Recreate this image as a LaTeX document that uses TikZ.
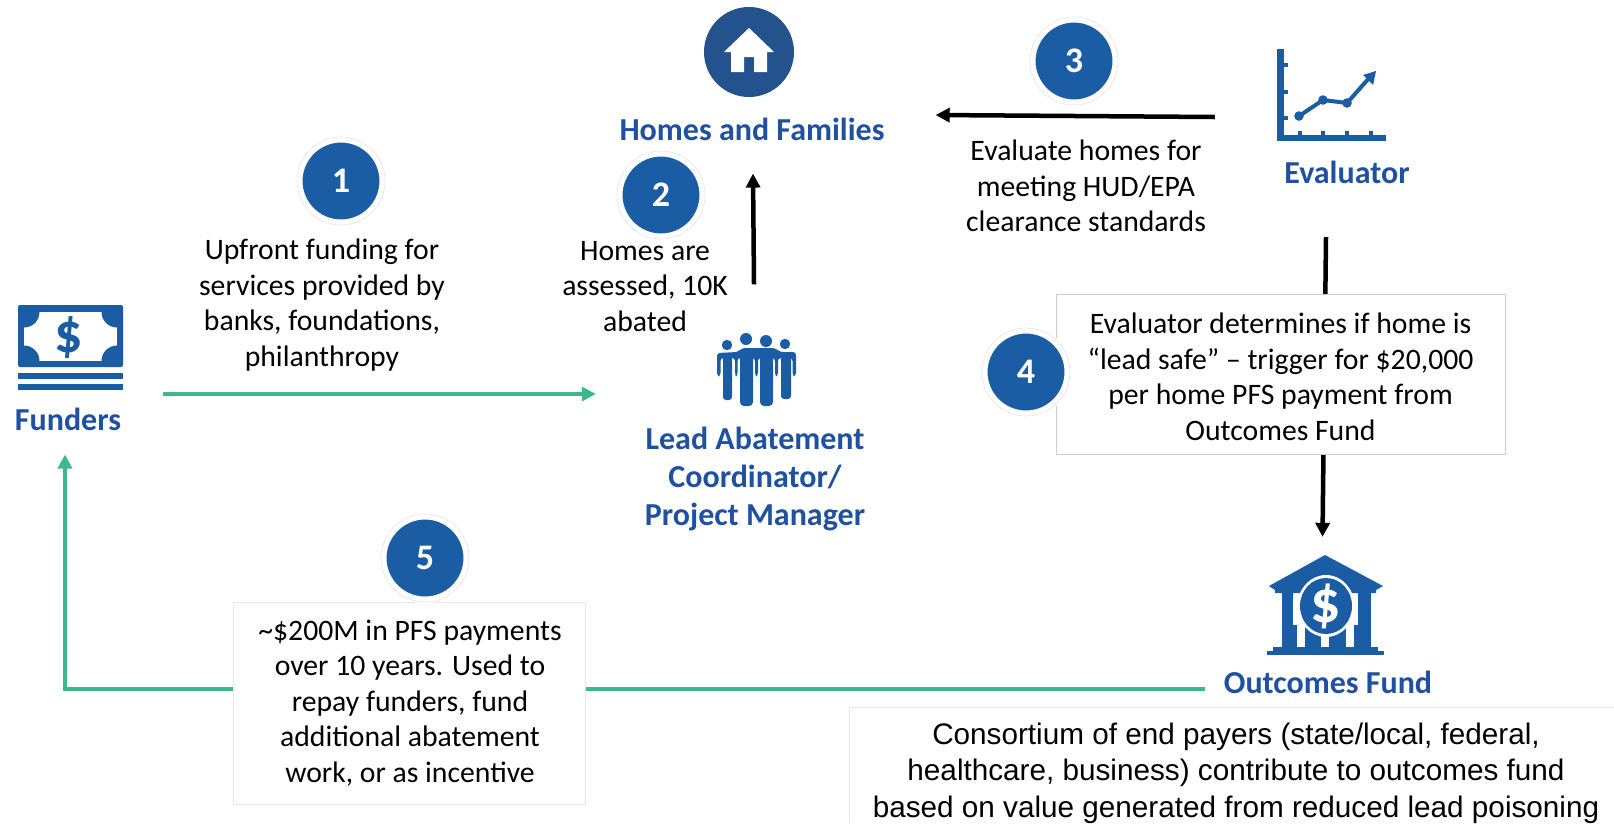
\documentclass[tikz,border=0pt]{standalone}
\usepackage{fontspec}
\setmainfont{Carlito}
\newfontfamily\arialfont{Liberation Sans}
\usetikzlibrary{arrows.meta}
\definecolor{iconblue}{HTML}{1A5DA4}
\definecolor{homeblue}{HTML}{24528C}
\definecolor{labelblue}{HTML}{1F51A0}
\definecolor{flowgreen}{HTML}{3CB88C}
\definecolor{boxgrey}{HTML}{CECECE}
\definecolor{paleboxgrey}{HTML}{E6E6E6}
\tikzset{
  x=1pt,y=-1pt,
  bodytext/.style={align=center,inner sep=0pt,font=\fontsize{29.7}{35.5}\selectfont,text=black},
  whitebox/.style={draw=boxgrey,line width=1pt,fill=white,inner sep=0pt},
  rolelabel/.style={align=center,inner sep=0pt,font=\fontsize{32}{38}\selectfont\bfseries,text=labelblue},
  stepdot/.style={circle,fill=iconblue,text=white,draw=white,line width=7pt,minimum size=84pt,inner sep=0pt,font=\fontsize{36}{36}\selectfont\bfseries},
  stephalo/.style={circle,draw=black!9,line width=0.7pt,fill=none,minimum size=88pt,inner sep=0pt},
  blackflow/.style={draw=black,line width=4.5pt,-{Triangle[length=14pt,width=14pt]}},
  greenflow/.style={draw=flowgreen,line width=4.5pt,-{Triangle[length=14pt,width=14pt]}},
  iconbox/.style={inner sep=0pt,draw=none,fill=none},
}
\begin{document}
\begin{tikzpicture}
\useasboundingbox (0,0) rectangle (1614,823);
\fill[white] (0,0) rectangle (1614,823);

% ---- invisible anchors for icons
\node[iconbox,minimum width=106pt,minimum height=86pt] (fundersicon) at (70.5,347.5) {};
\node[iconbox,minimum width=90pt,minimum height=90pt] (homeicon) at (749,52) {};
\node[iconbox,minimum width=110pt,minimum height=92pt] (evalicon) at (1331,95) {};
\node[iconbox,minimum width=80pt,minimum height=73pt] (leadicon) at (756,370) {};
\node[iconbox,minimum width=117pt,minimum height=100pt] (bankicon) at (1325.5,605) {};

% ---- role labels
\node[rolelabel] (funders) at (68,419) {Funders};
\node[rolelabel] (homes) at (752,129) {Homes and Families};
\node[rolelabel] (evaluator) at (1347,172) {Evaluator};
\node[rolelabel] (lead) at (755,479) {Lead Abatement\\Coordinator/\\Project Manager};
\node[rolelabel] (outcomes) at (1328,682) {Outcomes Fund};

% ---- connectors (drawn first so the white boxes cover them)
\draw[greenflow] ([shift={(42pt,25pt)}]funders.east) -- ([shift={(-120pt,-24pt)}]leadicon.west);
\draw[blackflow] ([shift={(-2pt,49pt)}]leadicon.north) -- ([shift={(1pt,-33pt)}]homes.south);
\draw[blackflow] ([shift={(-61pt,-22pt)}]evalicon.west) -- ([shift={(51pt,14pt)}]homes.east);
\draw[blackflow] ([shift={(-5pt,-96pt)}]evalicon.south) -- ([shift={(-3pt,18pt)}]bankicon.north);
\draw[greenflow] ([xshift=-19pt]outcomes.west |- 0,689) -| ([shift={(-3pt,-24pt)}]funders.south);

% ---- icon: banknotes
\fill[iconblue,rounded corners=2pt] (18,305) rectangle (123,367);
\begin{scope}
  \clip (24,312) rectangle (117,361);
  \fill[white] (24,312) rectangle (117,361);
  \foreach \cx/\cy in {24/312,117/312,24/361,117/361}
    \fill[iconblue] (\cx,\cy) circle (15.5);
\end{scope}
\node[inner sep=0pt,text=iconblue,font=\fontsize{56}{56}\selectfont\bfseries] (billsign) at (69,337) {\$};
\fill[iconblue] (18,373) rectangle (123,379);
\fill[iconblue] (18,384) rectangle (123,390);

% ---- icon: house in a disc
\fill[homeblue] (749,52) circle (45);
\fill[white] (749,28) -- (774,52) -- (767,52) -- (767,72) -- (754,72) -- (754,57) -- (744,57) -- (744,72) -- (731,72) -- (731,52) -- (724,52) -- cycle;

% ---- icon: chart
\fill[iconblue] (1277,49) rectangle (1284,141);
\fill[iconblue] (1277,135) rectangle (1386,141);
\foreach \ty in {65,92,118} \fill[iconblue] (1284,\ty-2) rectangle (1288,\ty+2);
\foreach \tx in {1300,1323,1347,1371} \fill[iconblue] (\tx-2,131) rectangle (\tx+2,135);
\draw[iconblue,line width=4pt,line join=round] (1299,116) -- (1323,100) -- (1347,103) -- (1370,77);
\foreach \px/\py in {1299/116,1323/100,1347/103} \fill[iconblue] (\px,\py) circle (4.8);
\fill[iconblue] (1376,71) -- (1373,85) -- (1363,75) -- cycle;

% ---- icon: people
\fill[iconblue] (727,345) circle (5.2) (746,339) circle (6) (766,341) circle (6) (785,344) circle (5.2);
\fill[iconblue,rounded corners=3pt] (717,376) -- (717,353) -- (738,352) -- (742,348) -- (775,348) -- (780,352) -- (796,352) -- (796,376) -- (792.5,376) -- (792.5,358) -- (778,358) -- (778,376) -- (775,376) -- (775,358) -- (758,358) -- (758,376) -- (755,376) -- (755,358) -- (737.5,358) -- (737.5,376) -- (735,376) -- (735,358) -- (720.5,358) -- (720.5,376) -- cycle;
\fill[iconblue,rounded corners=3pt] (723,354) rectangle (732,400);
\fill[iconblue,rounded corners=4pt] (740,350) rectangle (753,406);
\fill[iconblue,rounded corners=4pt] (760,350) rectangle (773,406);
\fill[iconblue,rounded corners=3pt] (781,354) rectangle (791,399);

% ---- icon: bank
\fill[iconblue] (1325,555) -- (1383,586) -- (1376,590) -- (1376,593) -- (1275,593) -- (1275,590) -- (1269,586) -- cycle;
\fill[iconblue] (1282,590) rectangle (1293,648);
\fill[iconblue] (1358,590) rectangle (1371,648);
\fill[iconblue] (1293,625) rectangle (1358,648);
\fill[iconblue] (1273,647) rectangle (1378,651);
\fill[iconblue] (1267,651) rectangle (1384,655);
\fill[white] (1326,606) ellipse (28.5 and 31);
\foreach \wx in {1301,1325,1350} \fill[white] (\wx-4,625) rectangle (\wx+4,647);
\fill[iconblue] (1326,606) ellipse (26 and 28);
\node[inner sep=0pt,text=white,font=\fontsize{60}{60}\selectfont\bfseries] (banksign) at (1326,606) {\$};

% ---- step text
\node[bodytext] (text1) at (322,305) {Upfront funding for\\services provided by\\banks, foundations,\\philanthropy};
\node[bodytext] (text2) at (645,286.5) {Homes are\\assessed, 10K\\abated};
\node[bodytext] (text3) at (1086,186) {Evaluate homes for\\meeting HUD/EPA\\clearance standards};
\node[whitebox,minimum width=449pt,minimum height=160pt] (frame4) at (1280.5,374) {};
\node[bodytext] (text4) at (1280.5,377) {Evaluator determines if home is\\“lead safe” – trigger for \$20,000\\per home PFS payment from\\Outcomes Fund};
\node[whitebox,draw=paleboxgrey,minimum width=352pt,minimum height=202pt] (frame5) at (409.5,703) {};
\node[bodytext] (text5) at (410,703) {\textasciitilde\$200M in PFS payments\\over 10 years. Used to\\repay funders, fund\\additional abatement\\work, or as incentive};

% ---- consortium box
\fill[white] (849,707) rectangle (1614,823);
\draw[paleboxgrey,line width=1pt] (849,823) -- (849,707) -- (1614,707);
\node[inner sep=0pt,align=center,font=\arialfont\fontsize{29.7}{36.5}\selectfont] (consortium) at (1236,773) {Consortium of end payers (state/local, federal,\\healthcare, business) contribute to outcomes fund\\based on value generated from reduced lead poisoning};

% ---- numbered discs
\foreach \nm/\lbl/\cx/\cy in {stepa/1/341/181,stepb/2/661/195,stepc/3/1074/61,stepd/4/1026/372,stepe/5/425/558}{
  \node[stepdot] (\nm) at (\cx,\cy) {\lbl};
  \node[stephalo] at (\nm) {};
}
\end{tikzpicture}
\end{document}
